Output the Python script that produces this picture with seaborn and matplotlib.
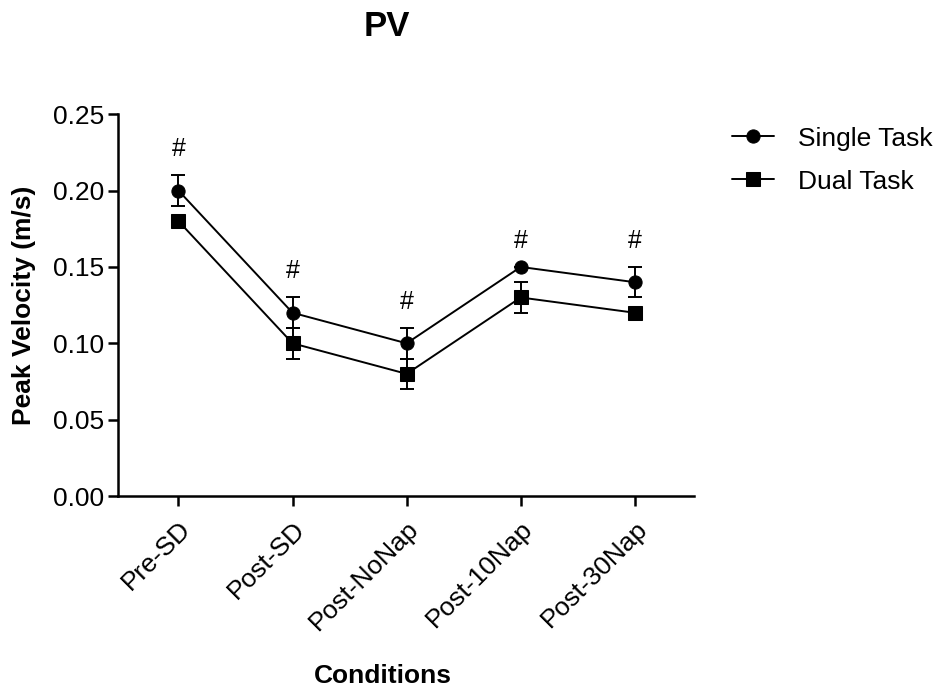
import pandas as pd
import matplotlib
matplotlib.use('Agg')
import matplotlib.pyplot as plt
import seaborn as sns

conditions = ['Pre-SD', 'Post-SD', 'Post-NoNap', 'Post-10Nap', 'Post-30Nap']
single_mean = [0.20, 0.12, 0.10, 0.15, 0.14]
single_err = [0.01, 0.01, 0.01, 0.0, 0.01]
dual_mean = [0.18, 0.10, 0.08, 0.13, 0.12]
dual_err = [0.0, 0.01, 0.01, 0.01, 0.0]
sig_marks = ['#', '#', '#', '#', '#']

df = pd.concat([
    pd.DataFrame({'Conditions': conditions, 'PV': single_mean, 'err': single_err, 'Task': 'Single Task'}),
    pd.DataFrame({'Conditions': conditions, 'PV': dual_mean, 'err': dual_err, 'Task': 'Dual Task'}),
]).reset_index(drop=True)

sns.set_style('ticks')
plt.rcParams['font.family'] = ['Liberation Sans', 'DejaVu Sans']
plt.rcParams['text.color'] = 'black'
plt.rcParams['axes.labelcolor'] = 'black'
plt.rcParams['xtick.color'] = 'black'
plt.rcParams['ytick.color'] = 'black'

fig = plt.figure(figsize=(9.4, 6.88), dpi=100)
ax = fig.add_axes([0.1255, 0.279, 0.613, 0.555])

sns.lineplot(data=df, x='Conditions', y='PV', hue='Task', style='Task',
             markers={'Single Task': 'o', 'Dual Task': 's'}, dashes=False,
             palette={'Single Task': 'black', 'Dual Task': 'black'},
             markersize=9.5, linewidth=1.4, markeredgecolor='black', ax=ax)

# error bars (mean +/- SEM)
for task, sub in df.groupby('Task', sort=False):
    ax.errorbar(range(len(sub)), sub['PV'], yerr=sub['err'], fmt='none',
                ecolor='black', elinewidth=1.4, capsize=5, capthick=1.4)

# significance marks above single task
for i, (m, e, s) in enumerate(zip(single_mean, single_err, sig_marks)):
    ax.annotate(s, (i, m + e), xytext=(0, 19), textcoords='offset points',
                ha='center', va='center', fontsize=18)

ax.set_xlim(-0.53, 4.52)
ax.set_ylim(0, 0.25)
ax.set_yticks([0, 0.05, 0.10, 0.15, 0.20, 0.25])
ax.set_yticklabels(['0.00', '0.05', '0.10', '0.15', '0.20', '0.25'])
ax.set_xticks(range(len(conditions)))
ax.set_xticklabels(conditions, rotation=45, ha='right', rotation_mode='anchor')
ax.tick_params(axis='both', labelsize=19, width=1.8, length=7, color='black')
ax.tick_params(axis='x', pad=8)
ax.tick_params(axis='y', pad=3)
for sp in ['left', 'bottom']:
    ax.spines[sp].set_linewidth(1.8)
    ax.spines[sp].set_color('black')
sns.despine(ax=ax)

ax.set_ylabel('Peak Velocity (m/s)', fontsize=19, fontweight='bold', labelpad=12)
ax.set_xlabel('Conditions', fontsize=19, fontweight='bold')
ax.xaxis.set_label_coords(0.46, -0.44)
fig.text(387 / 940, 1 - 27 / 688, 'PV', fontsize=25, fontweight='bold',
         ha='center', va='center')

ax.legend(loc='upper left', bbox_to_anchor=(1.024, 1.03), frameon=False,
          fontsize=19, handlelength=1.6, handletextpad=0.9, labelspacing=0.72,
          title=None)

plt.savefig('out.png', dpi=100)
